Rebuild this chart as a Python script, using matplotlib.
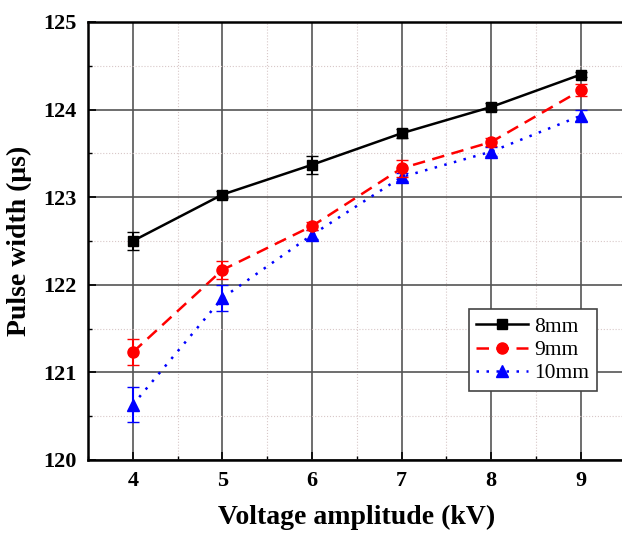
import matplotlib.pyplot as plt
from matplotlib.lines import Line2D
from matplotlib.ticker import MultipleLocator

plt.rcParams['font.family'] = ['Liberation Serif', 'DejaVu Serif']

voltage = [4, 5, 6, 7, 8, 9]

w8 = [122.50, 123.03, 123.37, 123.73, 124.03, 124.40]
e8 = [0.10, 0.04, 0.10, 0.05, 0.04, 0.03]
w9 = [121.23, 122.17, 122.67, 123.33, 123.63, 124.22]
e9 = [0.15, 0.10, 0.05, 0.10, 0.05, 0.07]
w10 = [120.63, 121.85, 122.57, 123.23, 123.52, 123.93]
e10 = [0.20, 0.15, 0.05, 0.05, 0.05, 0.06]

fig = plt.figure(figsize=(6.22, 5.35), dpi=100)
ax = fig.add_axes([88 / 622, 75 / 535, 537.6 / 622, 438 / 535])

styles = [
    (w8, e8, "black", "-", "s", 7, "8mm"),
    (w9, e9, "red", (0, (5, 3)), "o", 8, "9mm"),
    (w10, e10, "blue", (0, (1, 3)), "^", 8, "10mm"),
]
handles = []
for i, (w, e, c, ls, m, ms, lab) in enumerate(styles):
    ax.errorbar(voltage, w, yerr=e, color=c, ls=ls, lw=1.8, marker=m, ms=ms,
                capsize=4, elinewidth=1.5, zorder=5 - i)
    handles.append(Line2D([], [], color=c, ls=ls, lw=1.8, marker=m, ms=ms, label=lab))

ax.set_xlim(3.5, 9.5)
ax.set_ylim(120, 125)
ax.xaxis.set_major_locator(MultipleLocator(1))
ax.xaxis.set_minor_locator(MultipleLocator(0.5))
ax.yaxis.set_major_locator(MultipleLocator(1))
ax.yaxis.set_minor_locator(MultipleLocator(0.5))
ax.tick_params(which="both", direction="in", top=False, right=False)
ax.tick_params(which="major", length=6, width=1.2, labelsize=16, pad=8)
ax.tick_params(which="minor", length=3, width=1)
for lab in ax.get_xticklabels() + ax.get_yticklabels():
    lab.set_fontweight("bold")

ax.grid(which="major", color="#555555", lw=1.2, ls="-")
ax.grid(which="minor", color="#d8c8c8", lw=0.8, ls=":")
ax.set_axisbelow(True)

for s in ["left", "bottom", "top"]:
    ax.spines[s].set_linewidth(1.8)
ax.spines["right"].set_visible(False)

ax.set_xlabel("Voltage amplitude (kV)", fontsize=20, fontweight="bold", labelpad=10)
ax.set_ylabel("Pulse width (\u03bcs)", fontsize=20, fontweight="bold", labelpad=8)

leg = ax.legend(handles=handles, loc="lower right", bbox_to_anchor=(0.947, 0.1575),
                borderaxespad=0, fontsize=15.5, fancybox=False, framealpha=1,
                edgecolor="#444444", handlelength=2.4, handletextpad=0.3,
                borderpad=0.35, labelspacing=0.15)
leg.get_frame().set_linewidth(1.2)

fig.savefig("out.png", dpi=100)
